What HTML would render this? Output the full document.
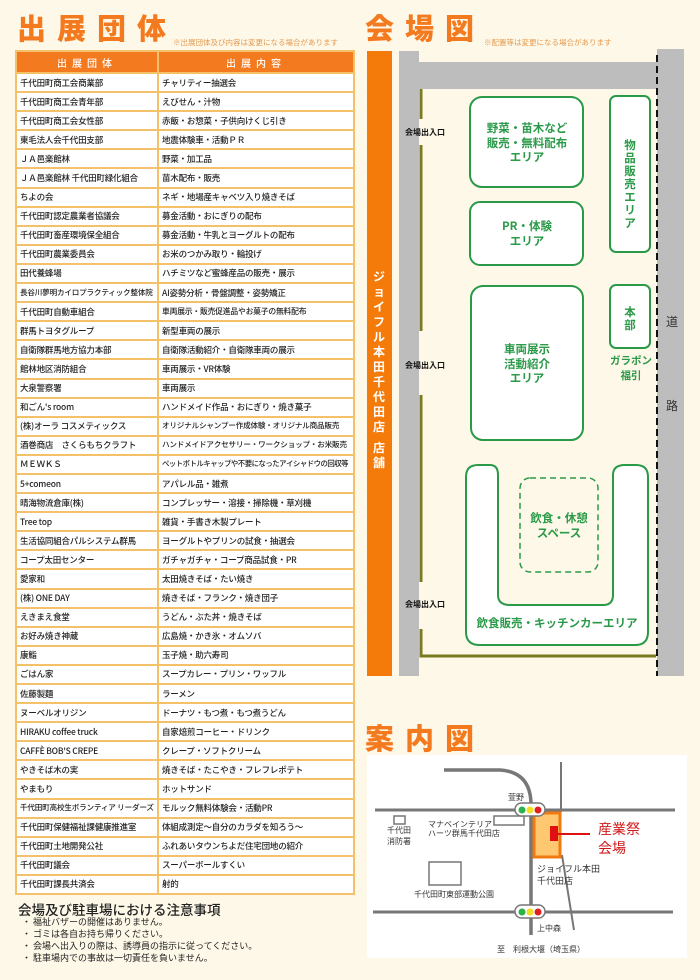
<!DOCTYPE html>
<html><head><meta charset="utf-8"><style>
*{margin:0;padding:0;box-sizing:border-box}
body{width:700px;height:980px;background:#fef8e8;position:relative;overflow:hidden;font-family:"Liberation Sans","Noto Sans CJK JP",sans-serif;color:#222}
.ttl{position:absolute;font-family:"Noto Sans CJK JP",sans-serif;font-weight:900;color:#f47a20;font-size:29px;letter-spacing:11px;line-height:30px}
.note{position:absolute;font-size:7.5px;color:#e39a50;font-family:"Noto Sans CJK JP",sans-serif}
table{position:absolute;left:15px;top:50px;width:340px;border-collapse:collapse;font-family:"Noto Sans CJK JP",sans-serif;font-size:8.5px;font-weight:500}
td{border:2px solid #f5c06a;background:#fff;height:19.1px;padding:0 0 0 3px;white-space:nowrap;overflow:hidden;line-height:14px;letter-spacing:-0.2px}
th{background:#f47a20;color:#fff;border:2px solid #f5c06a;height:22px;font-size:10px;letter-spacing:5px;font-weight:500}
td:first-child{width:142px}
.abs{position:absolute}
</style></head><body>
<div class="ttl" style="left:17px;top:12px">出展団体</div>
<div class="note" style="left:173px;top:37px">※出展団体及び内容は変更になる場合があります</div>
<table>
<tr><th>出展団体</th><th>出展内容</th></tr>
<tr><td>千代田町商工会商業部</td><td>チャリティー抽選会</td></tr>
<tr><td>千代田町商工会青年部</td><td>えびせん・汁物</td></tr>
<tr><td>千代田町商工会女性部</td><td>赤飯・お惣菜・子供向けくじ引き</td></tr>
<tr><td>東毛法人会千代田支部</td><td>地震体験車・活動ＰＲ</td></tr>
<tr><td>ＪＡ邑楽館林</td><td>野菜・加工品</td></tr>
<tr><td>ＪＡ邑楽館林 千代田町緑化組合</td><td>苗木配布・販売</td></tr>
<tr><td>ちよの会</td><td>ネギ・地場産キャベツ入り焼きそば</td></tr>
<tr><td>千代田町認定農業者協議会</td><td>募金活動・おにぎりの配布</td></tr>
<tr><td>千代田町畜産環境保全組合</td><td>募金活動・牛乳とヨーグルトの配布</td></tr>
<tr><td>千代田町農業委員会</td><td>お米のつかみ取り・輪投げ</td></tr>
<tr><td>田代養蜂場</td><td>ハチミツなど蜜蜂産品の販売・展示</td></tr>
<tr><td style="font-size:7.6px">長谷川夢明カイロプラクティック整体院</td><td>AI姿勢分析・骨盤調整・姿勢矯正</td></tr>
<tr><td>千代田町自動車組合</td><td style="font-size:7.8px">車両展示・販売促進品やお菓子の無料配布</td></tr>
<tr><td>群馬トヨタグループ</td><td>新型車両の展示</td></tr>
<tr><td>自衛隊群馬地方協力本部</td><td>自衛隊活動紹介・自衛隊車両の展示</td></tr>
<tr><td>館林地区消防組合</td><td>車両展示・VR体験</td></tr>
<tr><td>大泉警察署</td><td>車両展示</td></tr>
<tr><td>和ごん's room</td><td>ハンドメイド作品・おにぎり・焼き菓子</td></tr>
<tr><td>(株)オーラ コスメティックス</td><td style="font-size:7.6px">オリジナルシャンプー作成体験・オリジナル商品販売</td></tr>
<tr><td>酒巻商店　さくらもちクラフト</td><td style="font-size:7.6px">ハンドメイドアクセサリー・ワークショップ・お米販売</td></tr>
<tr><td>ＭＥＷＫＳ</td><td style="font-size:7.4px;letter-spacing:-0.5px">ペットボトルキャップや不要になったアイシャドウの回収等</td></tr>
<tr><td>5+comeon</td><td>アパレル品・雑煮</td></tr>
<tr><td>晴海物流倉庫(株)</td><td>コンプレッサー・溶接・掃除機・草刈機</td></tr>
<tr><td>Tree top</td><td>雑貨・手書き木製プレート</td></tr>
<tr><td>生活協同組合パルシステム群馬</td><td>ヨーグルトやプリンの試食・抽選会</td></tr>
<tr><td>コープ太田センター</td><td>ガチャガチャ・コープ商品試食・PR</td></tr>
<tr><td>愛家和</td><td>太田焼きそば・たい焼き</td></tr>
<tr><td>(株) ONE DAY</td><td>焼きそば・フランク・焼き団子</td></tr>
<tr><td>えきまえ食堂</td><td>うどん・ぶた丼・焼きそば</td></tr>
<tr><td>お好み焼き神蔵</td><td>広島焼・かき氷・オムソバ</td></tr>
<tr><td>康鮨</td><td>玉子焼・助六寿司</td></tr>
<tr><td>ごはん家</td><td>スープカレー・プリン・ワッフル</td></tr>
<tr><td>佐藤製麺</td><td>ラーメン</td></tr>
<tr><td>ヌーベルオリジン</td><td>ドーナツ・もつ煮・もつ煮うどん</td></tr>
<tr><td>HIRAKU coffee truck</td><td>自家焙煎コーヒー・ドリンク</td></tr>
<tr><td>CAFFÈ BOB'S CREPE</td><td>クレープ・ソフトクリーム</td></tr>
<tr><td>やきそば木の実</td><td>焼きそば・たこやき・フレフレポテト</td></tr>
<tr><td>やまもり</td><td>ホットサンド</td></tr>
<tr><td style="font-size:7.6px">千代田町高校生ボランティア リーダーズ</td><td>モルック無料体験会・活動PR</td></tr>
<tr><td>千代田町保健福祉課健康推進室</td><td>体組成測定～自分のカラダを知ろう～</td></tr>
<tr><td>千代田町土地開発公社</td><td>ふれあいタウンちよだ住宅団地の紹介</td></tr>
<tr><td>千代田町議会</td><td>スーパーボールすくい</td></tr>
<tr><td>千代田町課長共済会</td><td>射的</td></tr>
</table>
<div class="abs" style="left:18px;top:899px;font-size:13.5px;font-family:'Noto Sans CJK JP',sans-serif;font-weight:500">会場及び駐車場における注意事項</div>
<div class="abs" style="left:22px;top:916px;font-size:9px;line-height:12px;font-family:'Noto Sans CJK JP',sans-serif">
・ 福祉バザーの開催はありません。<br>・ ゴミは各自お持ち帰りください。<br>・ 会場へ出入りの際は、誘導員の指示に従ってください。<br>・ 駐車場内での事故は一切責任を負いません。</div>

<div class="ttl" style="left:365px;top:12px">会場図</div>
<div class="note" style="left:484px;top:37px">※配置等は変更になる場合があります</div>

<svg class="abs" style="left:0;top:0" width="700" height="980" font-family="Noto Sans CJK JP, sans-serif">
<rect x="367" y="51" width="25" height="625" fill="#f47a0a"/>
<rect x="399" y="51" width="20" height="625" fill="#bdbdbd"/>
<rect x="399" y="62" width="270" height="27" fill="#bdbdbd"/>
<rect x="657" y="49" width="27" height="627" fill="#bdbdbd"/>
<line x1="657" y1="55" x2="657" y2="676" stroke="#111" stroke-width="2" stroke-dasharray="7,4"/>
<g stroke="#7a7a20" stroke-width="3" fill="none">
<line x1="421" y1="89" x2="421" y2="119"/><line x1="421" y1="145" x2="421" y2="331"/>
<line x1="421" y1="395" x2="421" y2="582"/><polyline points="421,629 421,656 656,656"/>
</g>
<g font-size="8" font-weight="700" fill="#111">
<text x="405" y="135">会場出入口</text><text x="405" y="368">会場出入口</text><text x="405" y="607">会場出入口</text>
</g>
<g fill="#fff" stroke="#2a9a48" stroke-width="2">
<rect x="470" y="97" width="113" height="90" rx="12"/>
<rect x="470" y="202" width="113" height="63" rx="10"/>
<rect x="471" y="286" width="112" height="154" rx="12"/>
<rect x="610" y="96" width="40" height="156" rx="6"/>
<rect x="610" y="285" width="40" height="63" rx="6"/>
<path d="M478,465 H490 Q498,465 498,475 V595 Q498,605 510,605 H603 Q613,605 613,595 V475 Q613,465 625,465 H636 Q648,465 648,477 V632 Q648,645 635,645 H480 Q466,645 466,632 V477 Q466,465 478,465 Z"/>
</g>
<rect x="520" y="478" width="78" height="94" rx="10" fill="none" stroke="#2a9a48" stroke-width="1.5" stroke-dasharray="6,4"/>
<g fill="#2a9a48" font-size="11.5" font-weight="700" text-anchor="middle">
<text x="527" y="132">野菜・苗木など</text><text x="527" y="147">販売・無料配布</text><text x="527" y="161">エリア</text>
<text x="527" y="230">PR・体験</text><text x="527" y="245">エリア</text>
<text x="527" y="353">車両展示</text><text x="527" y="368">活動紹介</text><text x="527" y="382">エリア</text>
<text x="630" y="149">物</text><text x="630" y="162">品</text><text x="630" y="175">販</text><text x="630" y="188">売</text><text x="630" y="201">エ</text><text x="630" y="214">リ</text><text x="630" y="227">ア</text>
<text x="630" y="316">本</text><text x="630" y="329">部</text>
<text x="631" y="364" font-size="10.5">ガラポン</text><text x="631" y="379" font-size="10.5">福引</text>
<text x="559" y="522">飲食・休憩</text><text x="559" y="537">スペース</text>
<text x="557" y="627">飲食販売・キッチンカーエリア</text>
</g>
<g fill="#333" font-size="12" text-anchor="middle"><text x="672" y="326">道</text><text x="672" y="410">路</text></g>
<g fill="#fff" font-size="12" font-weight="700" text-anchor="middle">
<text x="379" y="281">ジ</text><text x="379" y="296">ョ</text><text x="379" y="311">イ</text><text x="379" y="326">フ</text><text x="379" y="341">ル</text><text x="379" y="356">本</text><text x="379" y="371">田</text><text x="379" y="386">千</text><text x="379" y="401">代</text><text x="379" y="416">田</text><text x="379" y="431">店</text><text x="379" y="452">店</text><text x="379" y="467">舗</text>
</g>

<rect x="367" y="755" width="320" height="203" fill="#fff"/>
<g stroke="#777" fill="none">
<line x1="375" y1="810" x2="675" y2="810" stroke-width="3"/>
<line x1="373" y1="912" x2="673" y2="912" stroke-width="3"/>
<path d="M444,770 H500 Q531,772 531,805 V935" stroke-width="3.5"/>
<line x1="561" y1="762" x2="561" y2="812" stroke-width="2"/>
<line x1="562" y1="855" x2="574" y2="930" stroke-width="2"/>
<rect x="394" y="816" width="11" height="8" stroke-width="1.5"/>
<rect x="494" y="816" width="30" height="9" stroke-width="1.5"/>
<rect x="429" y="862" width="32" height="23" stroke-width="1.5"/>
</g>
<rect x="534" y="813" width="26" height="44" fill="#ffc870" stroke="#f07a10" stroke-width="3"/>
<rect x="550" y="826" width="8" height="15" fill="#e01010"/>
<line x1="558" y1="834" x2="590" y2="834" stroke="#e01010" stroke-width="2"/>
<g fill="#d01818" font-size="14"><text x="598" y="834">産業祭</text><text x="598" y="853">会場</text></g>
<g>
<rect x="515" y="803" width="30" height="13" rx="6.5" fill="#fff" stroke="#777" stroke-width="1.5"/>
<circle cx="522" cy="810" r="3.5" fill="#2bb24a"/><circle cx="530" cy="810" r="3.5" fill="#f2e020"/><circle cx="538" cy="810" r="3.5" fill="#e02020"/>
<rect x="515" y="905" width="30" height="13" rx="6.5" fill="#fff" stroke="#777" stroke-width="1.5"/>
<circle cx="522" cy="912" r="3.5" fill="#2bb24a"/><circle cx="530" cy="912" r="3.5" fill="#f2e020"/><circle cx="538" cy="912" r="3.5" fill="#e02020"/>
</g>
<g fill="#333" font-size="8">
<text x="508" y="800">萱野</text>
<text x="387" y="833">千代田</text><text x="387" y="844">消防署</text>
<text x="428" y="827">マナベインテリア</text><text x="428" y="836">ハーツ群馬千代田店</text>
<text x="414" y="897">千代田町東部運動公園</text>
<text x="537" y="931">上中森</text>
<text x="497" y="952">至　利根大堰（埼玉県）</text>
<text x="537" y="872" font-size="9">ジョイフル本田</text><text x="537" y="884" font-size="9">千代田店</text>
</g>
</svg>
<div class="ttl" style="left:365px;top:722px">案内図</div>
</body></html>
